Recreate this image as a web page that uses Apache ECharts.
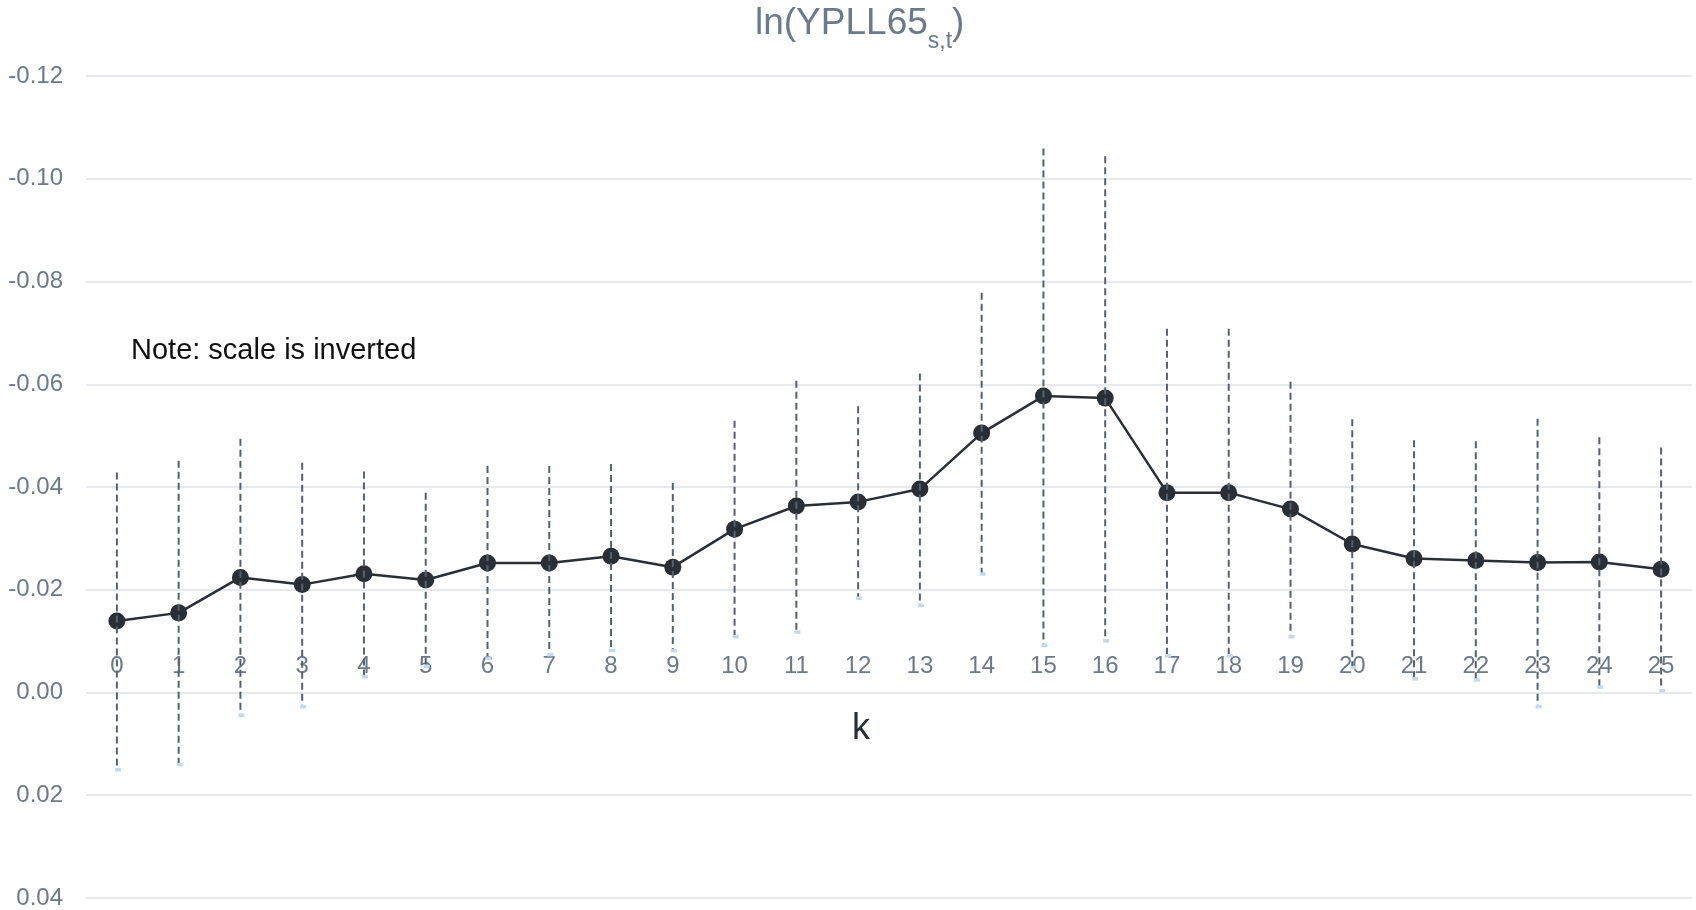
<!DOCTYPE html>
<html>
<head>
<meta charset="utf-8">
<title>ln(YPLL65) event study</title>
<script src="https://cdn.jsdelivr.net/npm/echarts@6/dist/echarts.min.js"></script>
<style>
  html, body { margin: 0; padding: 0; background: #ffffff; }
  #chart { width: 1696px; height: 910px; }
</style>
</head>
<body>
<div id="chart"></div>
<script>
// Event-time index k
const kLabels = ['0','1','2','3','4','5','6','7','8','9','10','11','12','13','14','15','16','17','18','19','20','21','22','23','24','25'];

// Point estimates
const estimates = [-0.0139, -0.0155, -0.0224, -0.0210, -0.0231, -0.0219, -0.0252, -0.0252, -0.0265, -0.0244,
                   -0.0318, -0.0363, -0.0371, -0.0396, -0.0505, -0.0577, -0.0573, -0.0389, -0.0389, -0.0357,
                   -0.0289, -0.0261, -0.0257, -0.0253, -0.0254, -0.0240];

// Confidence interval ends (more negative end, and the other end)
const ciNeg = [-0.0428, -0.0451, -0.0494, -0.0447, -0.0430, -0.0389, -0.0441, -0.0441, -0.0445, -0.0408,
               -0.0529, -0.0607, -0.0557, -0.0621, -0.0778, -0.1059, -0.1044, -0.0708, -0.0708, -0.0605,
               -0.0532, -0.0491, -0.0489, -0.0533, -0.0497, -0.0477];
const ciPos = [0.0149, 0.0139, 0.0043, 0.0026, -0.0032, -0.0052, -0.0068, -0.0075, -0.0083, -0.0083,
               -0.0110, -0.0119, -0.0185, -0.0171, -0.0232, -0.0093, -0.0102, -0.0073, -0.0073, -0.0110,
               -0.0050, -0.0028, -0.0026, 0.0026, -0.0012, -0.0005];

// y axis ticks
const yMin = -0.12, yMax = 0.04, yStep = 0.02;

const FONT = '"Liberation Sans", Arial, Helvetica, sans-serif';
const SLATE = '#6a7a8b';

const ciData = kLabels.map((k, i) => [i, ciNeg[i], ciPos[i]]);

const chart = echarts.init(document.getElementById('chart'), null, { renderer: 'canvas' });

chart.setOption({
  animation: false,
  backgroundColor: '#ffffff',
  textStyle: { fontFamily: FONT },
  title: {
    text: '{a|ln(YPLL65}{b|s,t}{a|)}',
    left: 750,
    top: 0,
    textStyle: {
      fontWeight: 'normal',
      rich: {
        a: { fontFamily: FONT, fontSize: 37, fontWeight: 'normal', lineHeight: 46, color: SLATE, verticalAlign: 'top' },
        b: { fontFamily: FONT, fontSize: 23, fontWeight: 'normal', lineHeight: 22, color: SLATE, verticalAlign: 'top', padding: [25, 0, 0, 0] }
      }
    }
  },
  grid: { left: 86, right: 4, top: 76, bottom: 12, containLabel: false },
  xAxis: {
    type: 'category',
    data: kLabels,
    boundaryGap: true,
    position: 'bottom',
    offset: -253,
    axisLine: { show: false, onZero: false },
    axisTick: { show: false },
    splitLine: { show: false },
    axisLabel: { color: SLATE, fontSize: 24, fontFamily: FONT, margin: 9 }
  },
  yAxis: {
    type: 'value',
    inverse: true,
    min: yMin,
    max: yMax,
    interval: yStep,
    axisLine: { show: false },
    axisTick: { show: false },
    splitLine: { show: true, lineStyle: { color: '#dfe2e7', width: 1.5 } },
    axisLabel: {
      color: SLATE, fontSize: 24, fontFamily: FONT, margin: 23,
      formatter: v => (Math.abs(v) < 1e-9 ? 0 : v).toFixed(2)
    }
  },
  graphic: [
    {
      type: 'text',
      left: 131,
      top: 336,
      style: { text: 'Note: scale is inverted', fontSize: 29, fontFamily: FONT, fill: '#111111' }
    },
    {
      type: 'text',
      left: 852,
      top: 711,
      style: { text: 'k', fontSize: 36, fontFamily: FONT, fill: '#2a2f36' }
    }
  ],
  series: [
    {
      name: 'estimate',
      type: 'line',
      data: estimates,
      z: 3,
      symbol: 'circle',
      symbolSize: 17,
      itemStyle: { color: '#2a2f36' },
      lineStyle: { color: '#2a2f36', width: 2.5 }
    },
    {
      name: 'ci',
      type: 'custom',
      z: 4,
      data: ciData,
      encode: { x: 0, y: [1, 2] },
      renderItem: function (params, api) {
        const i = api.value(0);
        const top = api.coord([i, api.value(1)]);
        const bot = api.coord([i, api.value(2)]);
        return {
          type: 'group',
          children: [
            {
              type: 'line',
              shape: { x1: top[0], y1: top[1], x2: bot[0], y2: bot[1] },
              style: { stroke: '#56616d', lineWidth: 2, lineDash: [7, 4] }
            },
            {
              type: 'rect',
              shape: { x: bot[0] - 2, y: bot[1] - 1, width: 6, height: 3.5 },
              style: { fill: '#c4d9ec' }
            }
          ]
        };
      }
    }
  ]
});
</script>
</body>
</html>
